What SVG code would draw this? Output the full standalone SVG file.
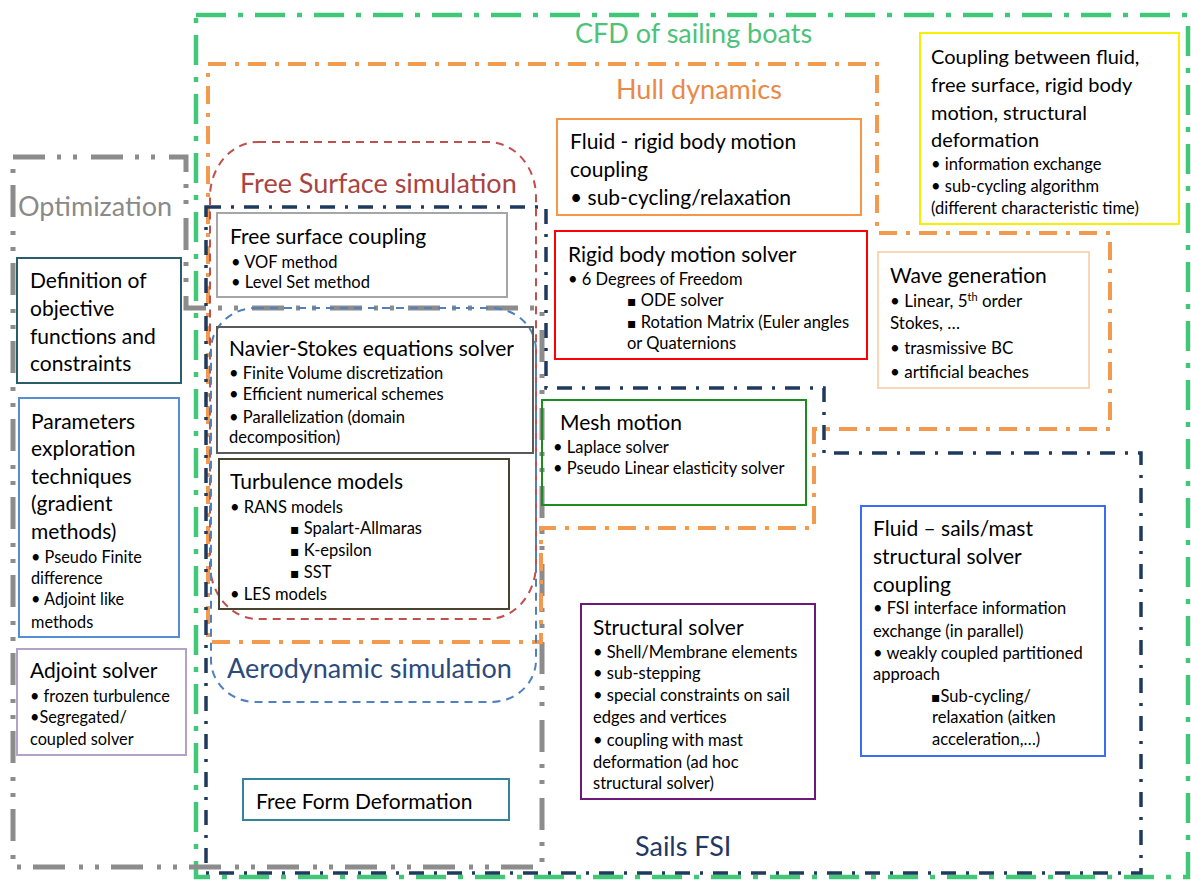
<svg xmlns="http://www.w3.org/2000/svg" width="1191" height="880" viewBox="0 0 1191 880">
<style>
text{font-family:Lato,"Liberation Sans",sans-serif;fill:#000}
.h{font-size:21px}
.s{font-size:16.5px}
.m{font-size:16.3px}
.t{font-size:27px}
.sq{font-family:"DejaVu Sans",sans-serif;font-size:14px}
.box{fill:none;stroke-width:2}
.cont{fill:none}
</style>
<rect width="1191" height="880" fill="#fff"/>
<g id="cfd">
<rect class="cont" x="196" y="15" width="992" height="862" stroke="#40c878" stroke-width="4.5" stroke-dasharray="30 12 5 12"/>
<text class="t" x="575" y="43" style="fill:#4cc27a">CFD of sailing boats</text>
</g>
<g id="optimization">
<path class="cont" d="M13,157 H186 V308 H542 V867 H13 Z" stroke="#8c8c8c" stroke-width="5" stroke-dasharray="32 12 4 12 4 14"/>
<text class="t" x="18" y="216" style="fill:#8a8a8a">Optimization</text>
</g>
<g id="hull-dynamics">
<path class="cont" d="M208,64 H877 V233 H1110 V429 H814 V528 H541 V642 H208 Z" stroke="#f39a4f" stroke-width="4" stroke-dasharray="18 9 4 9"/>
<text class="t" x="616" y="99" style="fill:#e8894a">Hull dynamics</text>
</g>
<g id="sails-fsi">
<path class="cont" d="M206,207 H546 V388 H824 V453 H1141 V873 H206 Z" stroke="#1f3a5f" stroke-width="3.5" stroke-dasharray="15 10 3 10"/>
<text class="t" x="635" y="856" style="fill:#1f3864">Sails FSI</text>
</g>
<g id="free-surface-simulation">
<rect class="cont" x="210" y="142" width="326" height="477" rx="48" ry="55" stroke="#c0504d" stroke-width="2" stroke-dasharray="8 6"/>
<text class="t" x="240" y="193" style="fill:#a94442">Free Surface simulation</text>
</g>
<g id="aerodynamic-simulation">
<rect class="cont" x="211" y="308" width="325" height="394" rx="45" ry="42" stroke="#4f81bd" stroke-width="2" stroke-dasharray="8 6"/>
<text class="t" x="227" y="678" style="fill:#2b4a7e">Aerodynamic simulation</text>
</g>
<g id="free-surface-coupling">
<rect class="box" x="217" y="213" width="290" height="84" stroke="#a6a6a6"/>
<text class="h" x="230" y="244">Free surface coupling</text>
<text class="s" x="231" y="268">• VOF method</text>
<text class="s" x="231" y="288">• Level Set method</text>
</g>
<g id="fluid-rigid-coupling">
<rect class="box" x="557" y="119" width="304" height="96" stroke="#f79646"/>
<text class="h" x="570" y="149">Fluid - rigid body motion</text>
<text class="h" x="570" y="177">coupling</text>
<text class="h" x="570" y="205">• sub-cycling/relaxation</text>
</g>
<g id="coupling-all">
<rect class="box" x="920" y="33" width="259" height="191" stroke="#f5f000"/>
<text class="h" x="931" y="64" style="font-size:20px">Coupling between fluid,</text>
<text class="h" x="931" y="92" style="font-size:20px">free surface, rigid body</text>
<text class="h" x="931" y="120" style="font-size:20px">motion, structural</text>
<text class="h" x="931" y="147" style="font-size:20px">deformation</text>
<text class="s" x="931" y="170">• information exchange</text>
<text class="s" x="931" y="192">• sub-cycling algorithm</text>
<text class="s" x="931" y="214">(different characteristic time)</text>
</g>
<g id="rigid-body-solver">
<rect class="box" x="555" y="231" width="312" height="128" stroke="#ff0000"/>
<text class="h" x="568" y="262">Rigid body motion solver</text>
<text class="s" x="568" y="285">• 6 Degrees of Freedom</text>
<text class="s" x="627" y="306"><tspan class="sq">▪</tspan> ODE solver</text>
<text class="s" x="627" y="328"><tspan class="sq">▪</tspan> Rotation Matrix (Euler angles</text>
<text class="s" x="627" y="349">or Quaternions</text>
</g>
<g id="wave-generation">
<rect class="box" x="878" y="252" width="211" height="136" stroke="#fbd5b5"/>
<text class="h" x="890" y="283">Wave generation</text>
<text class="m" x="890" y="307" style="font-size:17px">• Linear, 5<tspan font-size="11" baseline-shift="super">th</tspan> order</text>
<text class="m" x="890" y="329" style="font-size:17px">Stokes, …</text>
<text class="m" x="890" y="354" style="font-size:17px">• trasmissive BC</text>
<text class="m" x="890" y="378" style="font-size:17px">• artificial beaches</text>
</g>
<g id="navier-stokes">
<rect class="box" x="217" y="327" width="316" height="126" stroke="#595959"/>
<text class="h" x="229" y="356">Navier-Stokes equations solver</text>
<text class="s" x="229" y="379">• Finite Volume discretization</text>
<text class="s" x="229" y="400">• Efficient numerical schemes</text>
<text class="s" x="229" y="423">• Parallelization (domain</text>
<text class="s" x="229" y="443">decomposition)</text>
</g>
<g id="turbulence-models">
<rect class="box" x="219" y="459" width="290" height="150" stroke="#4a4330"/>
<text class="h" x="230" y="489">Turbulence models</text>
<text class="s" x="230" y="513">• RANS models</text>
<text class="s" x="290" y="534"><tspan class="sq">▪</tspan> Spalart-Allmaras</text>
<text class="s" x="290" y="556"><tspan class="sq">▪</tspan> K-epsilon</text>
<text class="s" x="290" y="578"><tspan class="sq">▪</tspan> SST</text>
<text class="s" x="230" y="600">• LES models</text>
</g>
<g id="mesh-motion">
<rect class="box" x="542" y="400" width="264" height="105" stroke="#1e8c1e"/>
<text class="h" x="560" y="430">Mesh motion</text>
<text class="s" x="553" y="453">• Laplace solver</text>
<text class="s" x="553" y="474">• Pseudo Linear elasticity solver</text>
</g>
<g id="objective-definition">
<rect class="box" x="17" y="258" width="164" height="125" stroke="#2a5d6c"/>
<text class="h" x="30" y="288">Definition of</text>
<text class="h" x="30" y="316">objective</text>
<text class="h" x="30" y="344">functions and</text>
<text class="h" x="30" y="371">constraints</text>
</g>
<g id="parameters-exploration">
<rect class="box" x="19" y="398" width="160" height="239" stroke="#558ed5"/>
<text class="h" x="31" y="429">Parameters</text>
<text class="h" x="31" y="456">exploration</text>
<text class="h" x="31" y="484">techniques</text>
<text class="h" x="31" y="511">(gradient</text>
<text class="h" x="31" y="539">methods)</text>
<text class="m" x="31" y="563">• Pseudo Finite</text>
<text class="m" x="31" y="584">difference</text>
<text class="m" x="31" y="605">• Adjoint like</text>
<text class="m" x="31" y="628">methods</text>
</g>
<g id="adjoint-solver">
<rect class="box" x="17" y="649" width="169" height="106" stroke="#b3a2c7"/>
<text class="h" x="30" y="678">Adjoint solver</text>
<text class="m" x="30" y="702">• frozen turbulence</text>
<text class="m" x="30" y="723">•Segregated/</text>
<text class="m" x="30" y="745">coupled solver</text>
</g>
<g id="free-form-deformation">
<rect class="box" x="243" y="779" width="266" height="41" stroke="#31849b"/>
<text class="h" x="256" y="809">Free Form Deformation</text>
</g>
<g id="structural-solver">
<rect class="box" x="581" y="604" width="234" height="195" stroke="#6b1a78"/>
<text class="h" x="593" y="635">Structural solver</text>
<text class="s" x="593" y="658">• Shell/Membrane elements</text>
<text class="s" x="593" y="679">• sub-stepping</text>
<text class="s" x="593" y="701">• special constraints on sail</text>
<text class="s" x="593" y="723">edges and vertices</text>
<text class="s" x="593" y="746">• coupling with mast</text>
<text class="s" x="593" y="768">deformation (ad hoc</text>
<text class="s" x="593" y="789">structural solver)</text>
</g>
<g id="fluid-sails-coupling">
<rect class="box" x="861" y="506" width="244" height="250" stroke="#3b6cf5"/>
<text class="h" x="873" y="536">Fluid – sails/mast</text>
<text class="h" x="873" y="564">structural solver</text>
<text class="h" x="873" y="592">coupling</text>
<text class="s" x="873" y="614">• FSI interface information</text>
<text class="s" x="873" y="637">exchange (in parallel)</text>
<text class="s" x="873" y="659">• weakly coupled partitioned</text>
<text class="s" x="873" y="680">approach</text>
<text class="s" x="931" y="702"><tspan class="sq">▪</tspan>Sub-cycling/</text>
<text class="s" x="932" y="723">relaxation (aitken</text>
<text class="s" x="932" y="745">acceleration,…)</text>
</g>
<g id="connectors"/>
</svg>
